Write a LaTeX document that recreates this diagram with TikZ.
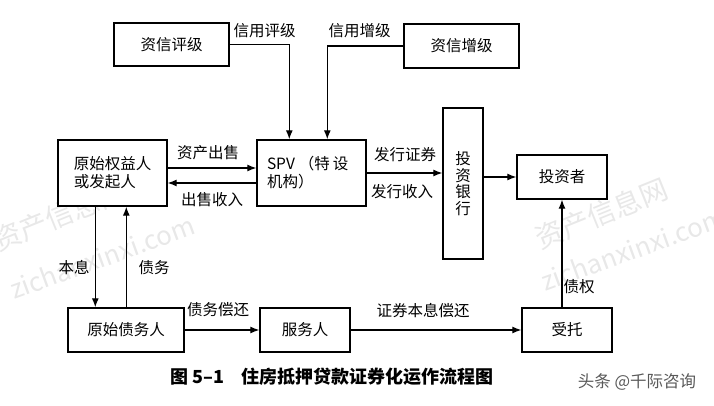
\documentclass[tikz,border=0pt]{standalone}
\usepackage{fontspec}
\setmainfont{Noto Sans CJK SC}
\usetikzlibrary{arrows.meta,calc}
\begin{document}
\begin{tikzpicture}[x=1pt,y=-1pt,
  box/.style={draw,line width=1.4pt,fill=white,inner sep=0pt,font=\fontsize{15.5pt}{18pt}\selectfont},
  arr/.style={line width=1.2pt,-{Latex[length=9pt,width=7pt]}},
  lab/.style={font=\fontsize{15.5pt}{18pt}\selectfont,inner sep=0pt},
  wm/.style={text=black!9,inner sep=0pt,anchor=base west}]
\useasboundingbox (0,0) rectangle (714,406);
\clip (0,0) rectangle (714,406);
% watermarks
\node[wm,rotate=22,font=\fontsize{28pt}{30pt}\selectfont] (w1a) at (-2,252) {资产信息网};
\node[wm,rotate=20,font=\fontsize{26pt}{30pt}\selectfont] (w1b) at (14,300) {zichanxinxi.com};
\node[wm,rotate=22,font=\fontsize{28pt}{30pt}\selectfont] (w2a) at (540,250) {资产信息网};
\node[wm,rotate=20,font=\fontsize{26pt}{30pt}\selectfont] (w2b) at (545,292) {zichanxinxi.com};
% boxes
\node[box,minimum width=115pt,minimum height=43pt] (pj) at (171.5,44.5) {资信评级};
\node[box,minimum width=115pt,minimum height=44pt] (zj) at (461.5,46) {资信增级};
\node[box,minimum width=109pt,minimum height=66pt,align=left] (yr) at (112.5,173) {原始权益人\\或发起人};
\node[box,minimum width=109pt,minimum height=66pt,text width=89pt,align=left] (spv) at (311.5,173) {SPV\hspace{4pt}（特\hspace{3pt}设\\机构）};
\node[box,minimum width=40pt,minimum height=151pt,align=center,font=\fontsize{15.5pt}{16.5pt}\selectfont] (tb) at (463,183.5) {投\\资\\银\\行};
\node[box,minimum width=90pt,minimum height=44pt] (tzz) at (562,177) {投资者};
\node[box,minimum width=116pt,minimum height=44pt] (zw) at (126,330) {原始债务人};
\node[box,minimum width=90pt,minimum height=44pt] (fw) at (305,330) {服务人};
\node[box,minimum width=90pt,minimum height=44pt] (st) at (567,330) {受托};
% connectors
\coordinate (pjx) at ([xshift=33pt]spv.north west);
\coordinate (zjx) at ([xshift=71pt]spv.north west);
\draw[arr] (pj.east) -| (pjx);
\draw[arr] (zj.west) -| (zjx);
\draw[arr] ([yshift=5pt]yr.east) -- ([yshift=5pt]spv.west);
\draw[arr] ([yshift=-10pt]spv.west) -- ([yshift=-10pt]yr.east);
\draw[arr] (spv.east) -- (spv.east -| tb.west);
\draw[arr] (tb.east |- tzz.west) -- (tzz.west);
\coordinate (bx) at ([xshift=38pt]yr.south west);
\coordinate (dx) at ([xshift=69pt]yr.south west);
\draw[arr] (bx) -- (bx |- zw.north);
\draw[arr] (dx |- zw.north) -- (dx);
\draw[arr] (zw.east) -- (fw.west);
\draw[arr] (fw.east) -- (st.west);
\draw[arr] (tzz.south |- st.north) -- (tzz.south);
% labels
\node[lab] (l1) at (264.5,31) {信用评级};
\node[lab] (l2) at (359.5,31) {信用增级};
\node[lab] (l3) at (208,153) {资产出售};
\node[lab] (l4) at (212,200) {出售收入};
\node[lab] (l5) at (405,155) {发行证券};
\node[lab] (l6) at (402,192) {发行收入};
\node[lab] (l7) at (74,268) {本息};
\node[lab] (l8) at (154,268) {债务};
\node[lab] (l9) at (218,310) {债务偿还};
\node[lab] (l10) at (423,311) {证券本息偿还};
\node[lab] (l11) at (579,287) {债权};
% caption
\node[inner sep=0pt,font=\bfseries\fontsize{18pt}{20pt}\selectfont] (cap) at (332,377) {图 5–1\hspace{18pt}住房抵押贷款证券化运作流程图};
\node[inner sep=0pt,text=black!65,font=\fontsize{16.5pt}{18pt}\selectfont] (tt) at (637,382) {头条 @千际咨询};
\end{tikzpicture}
\end{document}
